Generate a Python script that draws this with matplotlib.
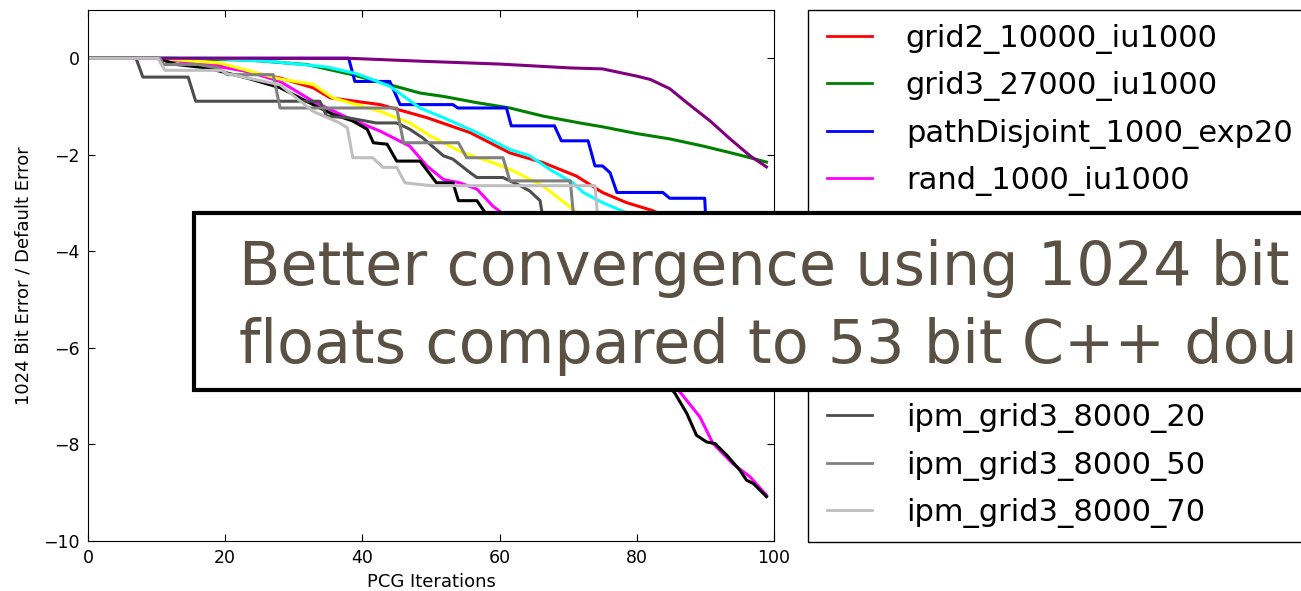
import matplotlib
matplotlib.use('Agg')
import matplotlib.pyplot as plt
from matplotlib.patches import Rectangle
from matplotlib.lines import Line2D
from matplotlib.legend_handler import HandlerLine2D

# breakpoints of each convergence curve (iteration, log10 error ratio)
red_x = [0, 10, 18.2, 28, 32.8, 35.3, 42.6, 49.4, 55.7, 61.5, 66.3, 71.2, 75, 78.5, 82.4, 90, 99]
red_y = [0, 0, -0.13, -0.41, -0.61, -0.82, -0.96, -1.23, -1.54, -1.96, -2.16, -2.44, -2.78, -2.99, -3.16, -3.7, -4.4]

green_x = [0, 12, 23.6, 31.9, 38.2, 43, 48.4, 51.8, 56.7, 61.5, 66.4, 71.7, 75, 80, 84.8, 89.7, 94.6, 98.9]
green_y = [0, 0, -0.04, -0.13, -0.33, -0.51, -0.72, -0.79, -0.92, -1.03, -1.2, -1.34, -1.42, -1.56, -1.67, -1.82, -1.99, -2.15]

blue_x = [0, 38, 38.9, 44, 45.5, 53.2, 53.9, 61, 61.7, 68, 69, 72.9, 73.9, 75, 76.1, 77.1, 83.8, 84.8, 89.9, 90.3, 99]
blue_y = [0, 0, -0.48, -0.48, -0.96, -0.96, -1.03, -1.03, -1.4, -1.4, -1.71, -1.71, -2.23, -2.23, -2.37, -2.78, -2.78, -2.9, -2.9, -4.0, -4.6]

magenta_x = [0, 10, 15.9, 23.2, 28, 32.8, 37.8, 42.6, 46.9, 49.4, 51.8, 54.2, 56.7, 59, 65, 75, 82, 86.5, 89.2, 91.1, 94, 96.5, 98.9]
magenta_y = [0, 0, -0.1, -0.27, -0.48, -0.89, -1.23, -1.51, -1.82, -2.23, -2.51, -2.58, -2.71, -3.06, -3.7, -5.0, -6.2, -6.95, -7.43, -7.98, -8.4, -8.67, -9.05]

cyan_x = [0, 18, 27, 34.8, 39.2, 44, 48.4, 51.8, 56.7, 61.5, 64.4, 67.3, 70.7, 72.2, 75, 78.5, 83, 90, 99]
cyan_y = [0, 0, -0.07, -0.18, -0.32, -0.58, -1.03, -1.23, -1.54, -1.89, -2.02, -2.3, -2.58, -2.78, -2.99, -3.2, -3.3, -3.8, -4.5]

yellow_x = [0, 10, 19.2, 28, 32.8, 35.7, 42.6, 46.9, 49.9, 54.7, 59, 61.5, 66.3, 70.7, 78, 88, 99]
yellow_y = [0, 0, -0.1, -0.43, -0.54, -0.82, -1.1, -1.34, -1.61, -1.96, -2.16, -2.3, -2.64, -3.13, -3.9, -4.8, -5.6]

black_x = [0, 10, 13, 17.3, 23.2, 28, 32.8, 35.7, 38.6, 40.7, 41.6, 43.6, 45, 48.4, 50.8, 53.2, 54, 56.7, 57.9,
           65, 75, 82, 85.6, 87.3, 88.7, 90.2, 91.4, 93.1, 95, 96, 97, 98.9]
black_y = [0, 0, -0.13, -0.2, -0.41, -0.61, -0.96, -1.16, -1.3, -1.47, -1.75, -1.78, -2.13, -2.13, -2.58, -2.58, -2.95, -2.95, -3.2,
           -4.1, -5.4, -6.3, -6.95, -7.36, -7.81, -7.95, -7.98, -8.22, -8.53, -8.74, -8.81, -9.08]

purple_x = [0, 38, 48.4, 60, 70.3, 75, 80, 82, 84.8, 87.3, 90.7, 93.6, 96.5, 98.9]
purple_y = [0, 0, -0.06, -0.12, -0.2, -0.22, -0.37, -0.44, -0.63, -0.92, -1.3, -1.67, -2.02, -2.25]

dgray_x = [0, 7, 8, 14.6, 15.7, 33.8, 34.8, 37.8, 42, 45, 46.9, 48.8, 51.8, 53.2, 55.7, 56.7, 60.5, 63, 64.4, 65.9, 66.3, 75, 88, 99]
dgray_y = [0, 0, -0.39, -0.39, -0.89, -0.89, -1.2, -1.23, -1.34, -1.34, -1.47, -1.65, -2.02, -2.09, -2.37, -2.47, -2.47, -2.64, -2.75, -2.95, -3.3, -4.0, -5.0, -5.8]

mgray_x = [0, 10.5, 11, 16, 19, 20.3, 27, 28, 45, 46, 54, 55.2, 60.5, 61.5, 70.3, 71, 80, 90, 99]
mgray_y = [0, 0, -0.13, -0.13, -0.2, -0.34, -0.34, -1.03, -1.03, -1.75, -1.75, -2.06, -2.06, -2.54, -2.54, -3.6, -4.3, -5.0, -5.6]

lgray_x = [0, 10.2, 11.2, 19.5, 20.3, 28, 32.8, 36.7, 37.8, 38.6, 41.5, 43, 45, 46.2, 50, 73.9, 74.5, 85, 99]
lgray_y = [0, 0, -0.25, -0.25, -0.32, -0.55, -1.1, -1.34, -1.44, -2.06, -2.06, -2.26, -2.26, -2.58, -2.64, -2.64, -3.6, -4.2, -5.0]

series = [
    ('grid2_10000_iu1000', red_x, red_y, 'red'),
    ('grid3_27000_iu1000', green_x, green_y, 'green'),
    ('pathDisjoint_1000_exp20', blue_x, blue_y, 'blue'),
    ('rand_1000_iu1000', magenta_x, magenta_y, 'magenta'),
    ('grid2_40000_iu1000', cyan_x, cyan_y, 'cyan'),
    ('grid3_8000_iu1000', yellow_x, yellow_y, 'yellow'),
    ('rand_10000_iu1000', black_x, black_y, 'black'),
    ('pathDisjoint_3000_exp20', purple_x, purple_y, 'purple'),
    ('ipm_grid3_8000_20', dgray_x, dgray_y, '0.3'),
    ('ipm_grid3_8000_50', mgray_x, mgray_y, '0.5'),
    ('ipm_grid3_8000_70', lgray_x, lgray_y, '0.75'),
]

W, H = 1301, 591
fig = plt.figure(figsize=(W / 100, H / 100), dpi=100)
ax = fig.add_axes([88 / W, 1 - 541 / H, (774 - 88) / W, (541 - 10) / H])

for name, xs, ys, c in series:
    ax.plot(xs, ys, color=c, lw=2.2, label=name)

ax.set_xlim(0, 100)
ax.set_ylim(-10, 1)
ax.set_xticks(range(0, 101, 20))
ax.set_yticks(range(-10, 1, 2))
ax.tick_params(direction='in', top=True, right=True, labelsize=12.5, length=5, pad=6)
ax.set_xlabel('PCG Iterations', fontsize=13)
ax.set_ylabel('1024 Bit Error / Default Error', fontsize=13, labelpad=8)

leg = ax.legend(loc='upper left', bbox_to_anchor=(808 / W, 1 - 10 / H), bbox_transform=fig.transFigure,
                borderaxespad=0, fontsize=22, fancybox=False, framealpha=1, edgecolor='black',
                labelspacing=0.57, handlelength=1.65, handletextpad=1.1, borderpad=0.45,
                handler_map={Line2D: HandlerLine2D(xpad=0.17)})
leg.get_frame().set_linewidth(1.0)
for h in leg.get_lines():
    h.set_linewidth(2.0)

# slide overlay box with caption
box = Rectangle((194 / W, 1 - 390 / H), (1330 - 194) / W, (390 - 213) / H, transform=fig.transFigure,
                facecolor='white', edgecolor='black', lw=3, zorder=5)
fig.patches.append(box)
tc = '#5a5044'
fig.text(239 / W, 1 - 285 / H, 'Better convergence using 1024 bit', fontsize=43.5, color=tc,
         family='DejaVu Sans', va='baseline', zorder=6)
fig.text(239 / W, 1 - 363 / H, 'floats compared to 53 bit C++ doubles', fontsize=43.5, color=tc,
         family='DejaVu Sans', va='baseline', zorder=6)

fig.savefig('out.png', dpi=100)
